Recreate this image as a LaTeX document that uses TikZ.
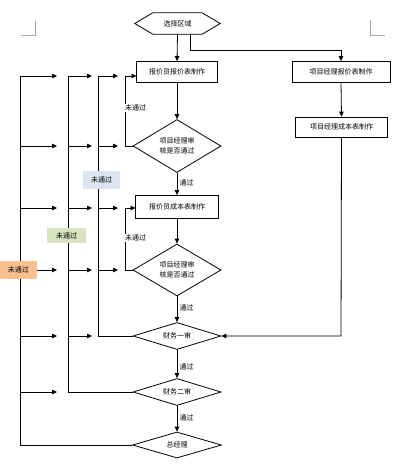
\documentclass[tikz,border=0pt]{standalone}
\usepackage{fontspec}
\newfontfamily\cjk{Noto Sans CJK SC}
\usetikzlibrary{arrows.meta,shapes.geometric}
\tikzset{
 every node/.style={font=\cjk\fontsize{7}{10.5}\selectfont, inner sep=0pt},
 proc/.style={draw, line width=0.8pt, minimum height=21pt},
 dia/.style={draw, diamond, aspect=1.7, line width=0.8pt, align=center},
 ln/.style={line width=0.8pt},
 arr/.style={line width=0.8pt, -{Triangle[length=5pt,width=4.5pt]}},
 lab/.style={fill=white, inner sep=1pt, anchor=west},
 tag/.style={minimum height=18pt, inner sep=1pt},
 cornermark/.style={draw=gray!70, line width=0.6pt}
}
\begin{document}
\begin{tikzpicture}[x=1pt,y=-1pt]
\useasboundingbox (0,0) rectangle (401,470);
% corner marks
\draw[cornermark] (21,35) -- (35,35) -- (35,21);
\draw[cornermark] (370,20) -- (370,35) -- (385,35);

% nodes
\node (h) [minimum width=85pt, minimum height=21pt] at (177.5,23.5) {选择区域};
\draw[ln] (h.west) -- ([xshift=18pt]h.north west) -- ([xshift=-18pt]h.north east) -- (h.east) -- ([xshift=-18pt]h.south east) -- ([xshift=18pt]h.south west) -- cycle;
\node (b1) [proc, minimum width=81pt] at (177,72) {报价员报价表制作};
\node (b2) [proc, minimum width=98pt] at (341,72) {项目经理报价表制作};
\node (b3) [proc, minimum width=92pt, minimum height=20pt] at (341.5,127) {项目经理成本表制作};
\node (d1) [dia, minimum width=88pt, minimum height=53pt] at (177,146) {项目经理审\\核是否通过};
\node (b4) [proc, minimum width=83pt, minimum height=23pt] at (177,207) {报价员成本表制作};
\node (d2) [dia, minimum width=88pt, minimum height=52pt] at (177,270) {项目经理审\\核是否通过};
\node (f1) [dia, minimum width=88pt, minimum height=27pt] at (177,336) {财务一审};
\node (f2) [dia, minimum width=88pt, minimum height=27pt] at (177,392) {财务二审};
\node (gm) [dia, minimum width=89pt, minimum height=26pt] at (177,445) {总经理};

% main column
\draw[arr] (h.south) -- (b1.north);
\coordinate (hs) at (190,34);
\coordinate (hc1) at (190,50);
\coordinate (hc2) at (341,50);
\draw[arr] (hs) -- (hc1) -- (hc2) -- (b2.north);
\draw[arr] (b2.south) -- (b3.north);
\coordinate (b3c) at (341,336);
\draw[arr] (b3.south) -- (b3c) -- (f1.east);
\draw[arr] (b1.south) -- (d1.north);
\draw[arr] (d1.south) -- (b4.north);
\draw[arr] (b4.south) -- (d2.north);
\draw[arr] (d2.south) -- (f1.north);
\draw[arr] (f1.south) -- (f2.north);
\draw[arr] (f2.south) -- (gm.north);

% loops
\coordinate (l1a) at (125,146);
\coordinate (l1b) at (125,76);
\coordinate (b1in) at (136.5,76);
\draw[arr] (d1.west) -- (l1a) -- (l1b) -- (b1in);
\coordinate (l2a) at (125,270);
\coordinate (l2b) at (125,208);
\coordinate (b4in) at (135.5,208);
\draw[arr] (d2.west) -- (l2a) -- (l2b) -- (b4in);

% trunks
\coordinate (t1a) at (98,76); \coordinate (t1b) at (98,336);
\draw[ln] (t1a) -- (t1b) -- (f1.west);
\coordinate (t2a) at (68,76); \coordinate (t2b) at (68,392);
\draw[ln] (t2a) -- (t2b) -- (f2.west);
\coordinate (t3a) at (20,76); \coordinate (t3b) at (20,445);
\draw[ln] (t3a) -- (t3b) -- (gm.west);

\foreach \y [count=\i] in {76,146,208,270,336,392} {
  \coordinate (pa\i) at (20,\y); \coordinate (pe\i) at (57,\y);
  \draw[arr] (pa\i) -- (pe\i);
}
\foreach \y [count=\i] in {76,146,208,270,336} {
  \coordinate (qa\i) at (68,\y); \coordinate (qe\i) at (92,\y);
  \draw[arr] (qa\i) -- (qe\i);
}
\foreach \y [count=\i] in {76,146,208,270} {
  \coordinate (ra\i) at (98,\y); \coordinate (re\i) at (118,\y);
  \draw[arr] (ra\i) -- (re\i);
}

% labels
\node (n1) [lab] at (124,108) {未通过};
\node (n2) [lab] at (124,238) {未通过};
\node (p1) [lab, fill=none] at (178.5,183) {通过};
\node (p2) [lab, fill=none] at (178.5,308) {通过};
\node (p3) [lab, fill=none] at (178.5,367) {通过};
\node (p4) [lab, fill=none] at (178.5,418) {通过};

\node (c1) [tag, fill={rgb,255:red,220;green,230;blue,242}, minimum width=37pt] at (101.5,180) {未通过};
\node (c2) [tag, fill={rgb,255:red,215;green,228;blue,189}, minimum width=39pt, minimum height=15pt] at (66.5,235.5) {未通过};
\node (c3) [tag, fill={rgb,255:red,250;green,192;blue,144}, minimum width=37pt] at (18.5,270) {未通过};
\end{tikzpicture}
\end{document}
